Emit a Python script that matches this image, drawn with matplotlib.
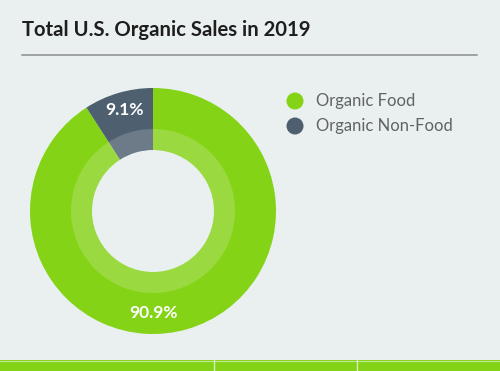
import matplotlib.pyplot as plt
from matplotlib.patches import Circle, Wedge, Rectangle

# data
labels = ['Organic Food', 'Organic Non-Food']
shares = [90.9, 9.1]
colors = ['#84d316', '#4e5f70']
title = 'Total U.S. Organic Sales in 2019'

bg = '#e9f0ef'
W, H = 500, 371

fig = plt.figure(figsize=(W / 100, H / 100), dpi=100, facecolor=bg)

# full-figure axes in pixel coords for title, rule, legend and footer bar
ax = fig.add_axes([0, 0, 1, 1])
ax.set_xlim(0, W)
ax.set_ylim(H, 0)
ax.axis('off')
ax.set_facecolor(bg)

ax.text(22, 30, title, fontsize=14.6, fontweight='bold', family='Lato',
        color='#1e1e1e', va='center', ha='left')
ax.plot([22, 477], [55, 55], color='#8a8f8e', lw=1.1)

# legend
for i, (lab, c) in enumerate(zip(labels, colors)):
    y = 101 + i * 25
    ax.add_patch(Circle((295, y), 8.5, color=c, lw=0))
    ax.text(316, y, lab, fontsize=12, family='Lato', color='#5f6366',
            va='center', ha='left')

# footer bar
ax.add_patch(Rectangle((0, 360), W, 11, color='#84d316', lw=0))
ax.plot([0, W], [360.5, 360.5], color='#c4e89a', lw=0.8)
for x in [214, 357]:
    ax.plot([x, x], [360, H], color='#d8edc0', lw=1)

# donut
cx, cy, R = 153, 211, 123
pax = fig.add_axes([(cx - R) / W, 1 - (cy + R) / H, 2 * R / W, 2 * R / H])
pax.set_xlim(-1, 1)
pax.set_ylim(-1, 1)
pax.axis('off')
pax.patch.set_alpha(0)

hole = 61 / R
band = 82 / R
pax.pie(shares, colors=colors, startangle=90, counterclock=False, radius=1,
        wedgeprops=dict(width=1 - hole, linewidth=0))
pax.add_patch(Wedge((0, 0), band, 0, 360, width=band - hole,
                    facecolor='white', alpha=0.18, lw=0))
pax.set_xlim(-1, 1)
pax.set_ylim(-1, 1)

pax.text(0, -0.83, f'{shares[0]}%', fontsize=12.5, fontweight='bold',
         family='Lato', color='white', ha='center', va='center')
pax.text(-0.23, 0.82, f'{shares[1]}%', fontsize=12.5, fontweight='bold',
         family='Lato', color='white', ha='center', va='center')

fig.savefig('out.png', dpi=100, facecolor=bg)
